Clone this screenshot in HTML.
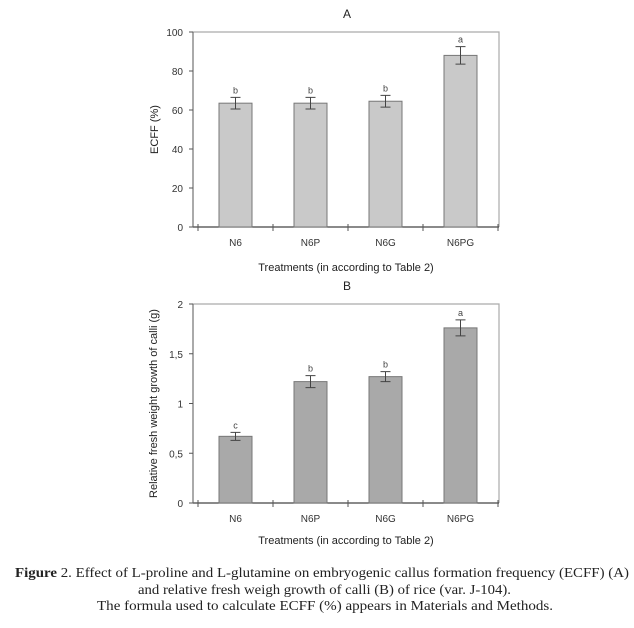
<!DOCTYPE html>
<html><head><meta charset="utf-8"><style>
body{margin:0;background:#fff}
svg{display:block;font-family:"Liberation Sans",Arial,sans-serif}
</style></head><body>
<svg id="svg" width="634" height="628" viewBox="0 0 634 628">
<g id="ca"></g>
<g id="cb"></g>
<g font-family="Liberation Serif, serif" font-size="14" fill="#222" text-anchor="middle">
<text x="322" y="577" textLength="614" lengthAdjust="spacingAndGlyphs"><tspan font-weight="bold">Figure</tspan> 2. Effect of L-proline and L-glutamine on embryogenic callus formation frequency (ECFF) (A)</text>
<text x="324.5" y="594" textLength="373" lengthAdjust="spacingAndGlyphs">and relative fresh weigh growth of calli (B) of rice (var. J-104).</text>
<text x="325" y="610" textLength="456" lengthAdjust="spacingAndGlyphs">The formula used to calculate ECFF (%) appears in Materials and Methods.</text>
</g>
</svg>
<script>
const categories=["N6","N6P","N6G","N6PG"];
const valuesA=[63.5,63.5,64.5,88];
const errorsA=[3,3,3,4.5];
const lettersA=["b","b","b","a"];
const ticksA=[0,20,40,60,80,100];
const tickLabelsA=["0","20","40","60","80","100"];
const valuesB=[0.67,1.22,1.27,1.76];
const errorsB=[0.04,0.06,0.05,0.08];
const lettersB=["c","b","b","a"];
const ticksB=[0,0.5,1,1.5,2];
const tickLabelsB=["0","0,5","1","1,5","2"];
const NS="http://www.w3.org/2000/svg";
function mk(p,t,a){const e=document.createElementNS(NS,t);for(const k in a)e.setAttribute(k,a[k]);p.appendChild(e);return e;}
function draw(g,o){
  const x0=193,x1=499,cl=198,cw=75;
  const y=v=>o.yb-(v-o.min)/(o.max-o.min)*(o.yb-o.yt);
  const xc=i=>cl+cw*(i+0.5);
  let t=mk(g,"text",{x:347,y:o.yt-14,"text-anchor":"middle","font-size":12,fill:"#222"});t.textContent=o.title;
  
  
  let fr=mk(g,"polyline",{points:`${x0},${o.yb} ${x0},${o.yt} ${x1},${o.yt} ${x1},${o.yb}`,fill:"none",stroke:"#aaa","stroke-width":1.2});
  
  
  let ax=mk(g,"line",{x1:x0,x2:x1,y1:o.yb,y2:o.yb,stroke:"#444","stroke-width":1.2});
  
  
  let ay=mk(g,"line",{x1:x0,x2:x0,y1:o.yb,y2:o.yt,stroke:"#666","stroke-width":1});
  
  
  o.ticks.forEach((v,i)=>{
    mk(g,"line",{x1:x0-4,x2:x0,y1:y(v),y2:y(v),stroke:"#555"});
    let l=mk(g,"text",{x:x0-10,y:y(v)+4,"text-anchor":"end","font-size":10,fill:"#333"});l.textContent=o.labels[i];
    
    
  });
  for(let i=0;i<=4;i++)mk(g,"line",{x1:cl+cw*i,x2:cl+cw*i,y1:o.yb-3,y2:o.yb+4,stroke:"#555"});
  categories.forEach((c,i)=>{
    const v=o.vals[i],e=o.errs[i],cx=xc(i);
    let b=mk(g,"rect",{x:cx-16.5,y:y(v),width:33,height:o.yb-y(v),fill:o.fill,stroke:"#777","stroke-width":1});
    
    
    let eb=mk(g,"path",{d:`M${cx},${y(v+e)}V${y(v-e)}M${cx-5},${y(v+e)}H${cx+5}M${cx-5},${y(v-e)}H${cx+5}`,stroke:"#444",fill:"none"});
    
    
    let lt=mk(g,"text",{x:cx,y:y(v+e)-4,"text-anchor":"middle","font-size":9,fill:"#444"});lt.textContent=o.letters[i];
    
    
    let xl=mk(g,"text",{x:cx,y:o.yb+19,"text-anchor":"middle","font-size":10,fill:"#333"});xl.textContent=c;
    
    
  });
  let xt=mk(g,"text",{x:346,y:o.yb+o.xtOff,"text-anchor":"middle","font-size":11,fill:"#222"});xt.textContent="Treatments (in according to Table 2)";
  
  
  const my=(o.yt+o.yb)/2;
  let yt=mk(g,"text",{x:0,y:0,"text-anchor":"middle","font-size":11,fill:"#222",transform:`translate(${o.ytx},${my}) rotate(-90)`});yt.textContent=o.ytitle;
  
  
}
draw(document.getElementById("ca"),{title:"A",yt:32,yb:227,min:0,max:100,ticks:ticksA,labels:tickLabelsA,vals:valuesA,errs:errorsA,letters:lettersA,fill:"#c9c9c9",ytitle:"ECFF (%)",ytx:158,xtOff:44});
draw(document.getElementById("cb"),{title:"B",yt:304,yb:503,min:0,max:2,ticks:ticksB,labels:tickLabelsB,vals:valuesB,errs:errorsB,letters:lettersB,fill:"#a9a9a9",ytitle:"Relative fresh weight growth of calli (g)",ytx:157,xtOff:41});
</script>
</body></html>
